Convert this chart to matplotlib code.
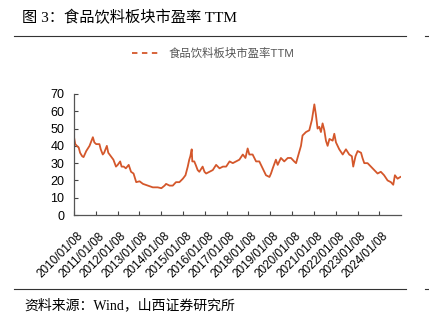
import numpy as np
import pandas as pd
import matplotlib
matplotlib.use('Agg')
import matplotlib.pyplot as plt
import matplotlib.lines as mlines
import matplotlib.transforms as mtransforms

# PE (TTM) of food & beverage sector
dates = ['2010-01-08', '2010-01-29', '2010-02-25', '2010-03-28', '2010-04-20',
         '2010-05-25', '2010-06-17', '2010-08-01', '2010-09-25', '2010-11-20',
         '2010-12-15', '2011-01-15', '2011-03-10', '2011-04-01', '2011-05-05',
         '2011-05-28', '2011-07-12', '2011-08-05', '2011-09-16', '2011-10-30',
         '2011-12-12', '2012-01-10', '2012-02-20', '2012-03-15', '2012-04-20',
         '2012-05-25', '2012-07-12', '2012-08-20', '2012-10-01', '2012-11-15',
         '2013-01-10', '2013-03-08', '2013-05-28', '2013-08-20', '2013-11-10',
         '2014-01-10', '2014-03-05', '2014-03-30', '2014-05-28', '2014-07-20',
         '2014-09-12', '2014-11-08', '2015-01-05', '2015-02-18', '2015-03-28',
         '2015-04-22', '2015-05-10', '2015-06-02', '2015-06-12', '2015-07-15',
         '2015-08-08', '2015-09-10', '2015-10-08', '2015-12-02', '2016-01-02',
         '2016-01-30', '2016-03-25', '2016-05-20', '2016-07-15', '2016-09-10',
         '2016-11-05', '2016-12-30', '2017-02-25', '2017-04-20', '2017-06-15',
         '2017-08-08', '2017-10-05', '2017-11-18', '2017-12-25', '2018-01-22',
         '2018-03-18', '2018-05-15', '2018-07-08', '2018-09-02', '2018-10-28',
         '2018-12-25', '2019-01-20', '2019-02-18', '2019-04-12', '2019-05-12',
         '2019-07-05', '2019-08-30', '2019-10-28', '2019-12-20', '2020-02-12',
         '2020-03-15', '2020-04-08', '2020-06-05', '2020-07-01', '2020-08-28',
         '2020-10-22', '2020-12-05', '2021-01-15', '2021-02-10', '2021-03-10',
         '2021-04-08', '2021-05-05', '2021-06-02', '2021-07-01', '2021-07-28',
         '2021-08-25', '2021-09-25', '2021-11-18', '2021-12-15', '2022-01-12',
         '2022-03-08', '2022-05-05', '2022-06-28', '2022-08-22', '2022-10-05',
         '2022-10-28', '2022-12-05', '2023-01-10', '2023-03-08', '2023-04-01',
         '2023-05-01', '2023-06-25', '2023-08-20', '2023-10-15', '2023-12-10',
         '2024-02-02', '2024-03-28', '2024-05-25', '2024-07-20', '2024-08-28',
         '2024-09-25', '2024-11-08', '2024-12-25']
pe = [45, 41, 40, 39, 36,
      34, 33.5, 37, 40, 45,
      42, 41, 41, 38, 35,
      36, 40, 36, 34, 32,
      28, 29, 31, 28, 28,
      27, 29, 25, 24, 19,
      19.5, 18, 17, 16, 16,
      15.5, 17, 18, 17, 17,
      19, 19, 21, 23, 28,
      32, 34, 38, 31, 31,
      29, 26, 25, 28, 25,
      24, 25, 26, 29, 27,
      28, 28, 31, 30, 31,
      32, 35, 33, 38.5, 35,
      35, 31, 31, 27, 23,
      22, 24, 27, 32, 29,
      33, 31, 33, 33, 31,
      30, 33, 40, 46, 48,
      49, 55, 64, 58, 50,
      51, 48, 53, 49, 43,
      40, 44, 43, 47, 42,
      38, 35, 38, 35, 34,
      28, 34, 37, 36, 33,
      30, 30, 28, 26, 24,
      25, 23, 20, 19, 17.5,
      23, 21, 22]

tick_dates = ['%d-01-08' % y for y in range(2010, 2025)]
tick_labels = ['%d/01/08' % y for y in range(2010, 2025)]
yticks = [0, 10, 20, 30, 40, 50, 60, 70]

line_color = '#d4572b'
serif_cjk = ['Liberation Serif', 'Noto Sans CJK SC']
sans_cjk = ['Liberation Sans', 'Noto Sans CJK SC']

fig = plt.figure(figsize=(4.29, 3.26), dpi=100)
W, H = 429, 326

# title and frame lines
fig.text(22 / W, 1 - 18 / H, '图 3：食品饮料板块市盈率 TTM', family=serif_cjk,
         fontsize=11, va='center', ha='left')
for yy in (36, 289):
    fig.add_artist(mlines.Line2D([14 / W, 406 / W], [1 - yy / H] * 2,
                                 color='#333333', lw=0.8))
    fig.add_artist(mlines.Line2D([425 / W, 1.0], [1 - yy / H] * 2,
                                 color='#333333', lw=0.8))
fig.text(24 / W, 1 - 305 / H, '资料来源：Wind，山西证券研究所', family=serif_cjk,
         fontsize=10, va='center', ha='left')

# legend
fig.add_artist(mlines.Line2D([132 / W, 160 / W], [1 - 53 / H] * 2,
                             color=line_color, lw=1.3, ls=(0, (3, 2.5))))
fig.text(169 / W, 1 - 53 / H, '食品饮料板块市盈率TTM', family=sans_cjk,
         fontsize=8.2, color='#555555', va='center', ha='left')

ax = fig.add_axes([74 / W, 1 - 215 / H, (401 - 74) / W, (215 - 94) / H])
x = pd.to_datetime(dates)
ax.plot(x, pe, color=line_color, lw=1.3)

ax.set_xlim(pd.Timestamp('2010-01-08'), pd.Timestamp('2025-01-05'))
ax.set_ylim(0, 70)
ax.set_yticks(yticks)
ax.set_yticklabels([str(v) for v in yticks], family='Liberation Sans', fontsize=9)
ax.set_xticks(pd.to_datetime(tick_dates))
ax.set_xticklabels(tick_labels, rotation=45, ha='right', va='center',
                   rotation_mode='anchor', family='Liberation Sans', fontsize=8.5)
ax.tick_params(direction='in', length=3, width=0.8, color='#444444')
ax.tick_params(axis='y', pad=7)
ax.tick_params(axis='x', pad=14)
shift = mtransforms.ScaledTranslation(7 / 100, 0, fig.dpi_scale_trans)
for lab in ax.get_xticklabels():
    lab.set_transform(lab.get_transform() + shift)
for s in ('top', 'right'):
    ax.spines[s].set_visible(False)
for s in ('left', 'bottom'):
    ax.spines[s].set_color('#555555')
    ax.spines[s].set_linewidth(0.9)
ax.patch.set_alpha(0)

fig.savefig('out.png', dpi=100)
